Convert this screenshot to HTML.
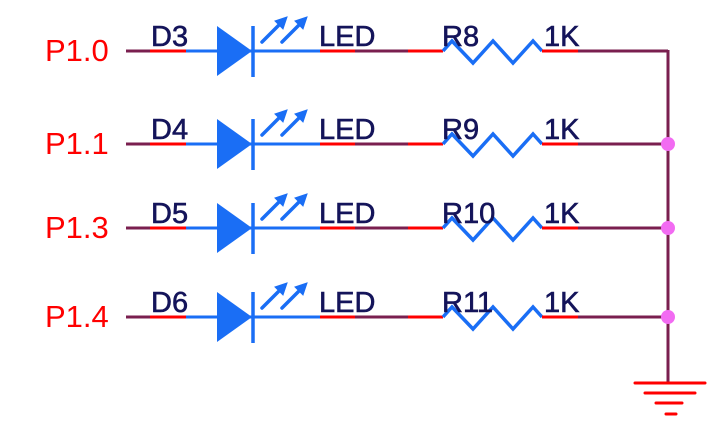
<!DOCTYPE html>
<html><head><meta charset="utf-8"><style>
html,body{margin:0;padding:0;background:#fff;}
svg{display:block}
.p{font-family:"Liberation Sans",sans-serif;font-size:31px;fill:#ff0000}
.l{font-family:"Liberation Sans",sans-serif;font-size:29px;fill:#14145a;stroke:#14145a;stroke-width:0.6}
</style></head><body>
<svg width="715" height="424" viewBox="0 0 715 424" xmlns="http://www.w3.org/2000/svg">
<defs>
<g id="row">
  <line x1="126" y1="0" x2="150" y2="0" stroke="#7a1f4f" stroke-width="3"/>
  <line x1="150" y1="0" x2="186" y2="0" stroke="#ff0000" stroke-width="3"/>
  <line x1="186" y1="0" x2="320" y2="0" stroke="#1a6ef5" stroke-width="3"/>
  <polygon points="217,-25 217,25 252,0" fill="#1a6ef5"/>
  <line x1="253" y1="-25" x2="253" y2="26" stroke="#1a6ef5" stroke-width="3.5"/>
  <g stroke="#1a6ef5" stroke-width="3.5" fill="#1a6ef5" stroke-linecap="round">
    <line x1="262" y1="-9" x2="280" y2="-27"/>
    <polygon points="287,-34 275,-30 283,-22" stroke-width="1"/>
    <line x1="282" y1="-9" x2="300" y2="-27"/>
    <polygon points="307,-34 295,-30 303,-22" stroke-width="1"/>
  </g>
  <line x1="320" y1="0" x2="355" y2="0" stroke="#ff0000" stroke-width="3"/>
  <line x1="355" y1="0" x2="408" y2="0" stroke="#7a1f4f" stroke-width="3"/>
  <line x1="408" y1="0" x2="443" y2="0" stroke="#ff0000" stroke-width="3"/>
  <polyline points="443,0 452,-10 473,12 493,-10 513,12 533,-10 542,0" fill="none" stroke="#1a6ef5" stroke-width="3.5"/>
  <line x1="542" y1="0" x2="578" y2="0" stroke="#ff0000" stroke-width="3"/>
  <line x1="578" y1="0" x2="668" y2="0" stroke="#7a1f4f" stroke-width="3"/>
</g>
</defs>
<line x1="668" y1="50" x2="668" y2="384" stroke="#7a1f4f" stroke-width="3"/>
<g transform="translate(0,51)"><use href="#row"/>
<text class="p" x="45" y="10">P1.0</text><text class="l" x="151" y="-5">D3</text><text class="l" x="319" y="-5">LED</text><text class="l" x="442" y="-5">R8</text><text class="l" x="544" y="-5">1K</text></g>
<g transform="translate(0,144)"><use href="#row"/>
<text class="p" x="45" y="10">P1.1</text><text class="l" x="151" y="-5">D4</text><text class="l" x="319" y="-5">LED</text><text class="l" x="442" y="-5">R9</text><text class="l" x="544" y="-5">1K</text></g>
<g transform="translate(0,228)"><use href="#row"/>
<text class="p" x="45" y="10">P1.3</text><text class="l" x="151" y="-5">D5</text><text class="l" x="319" y="-5">LED</text><text class="l" x="442" y="-5">R10</text><text class="l" x="544" y="-5">1K</text></g>
<g transform="translate(0,317)"><use href="#row"/>
<text class="p" x="45" y="10">P1.4</text><text class="l" x="151" y="-5">D6</text><text class="l" x="319" y="-5">LED</text><text class="l" x="442" y="-5">R11</text><text class="l" x="544" y="-5">1K</text></g>
<circle cx="668" cy="144" r="7" fill="#f26bf2"/>
<circle cx="668" cy="228" r="7" fill="#f26bf2"/>
<circle cx="668" cy="317" r="7" fill="#f26bf2"/>
<g stroke="#ff0000" stroke-width="3" stroke-linecap="round">
<line x1="635" y1="383" x2="705" y2="383"/>
<line x1="645" y1="393" x2="695" y2="393"/>
<line x1="656" y1="403" x2="682" y2="403"/>
<line x1="666" y1="414" x2="676" y2="414"/>
</g>
</svg>
</body></html>
